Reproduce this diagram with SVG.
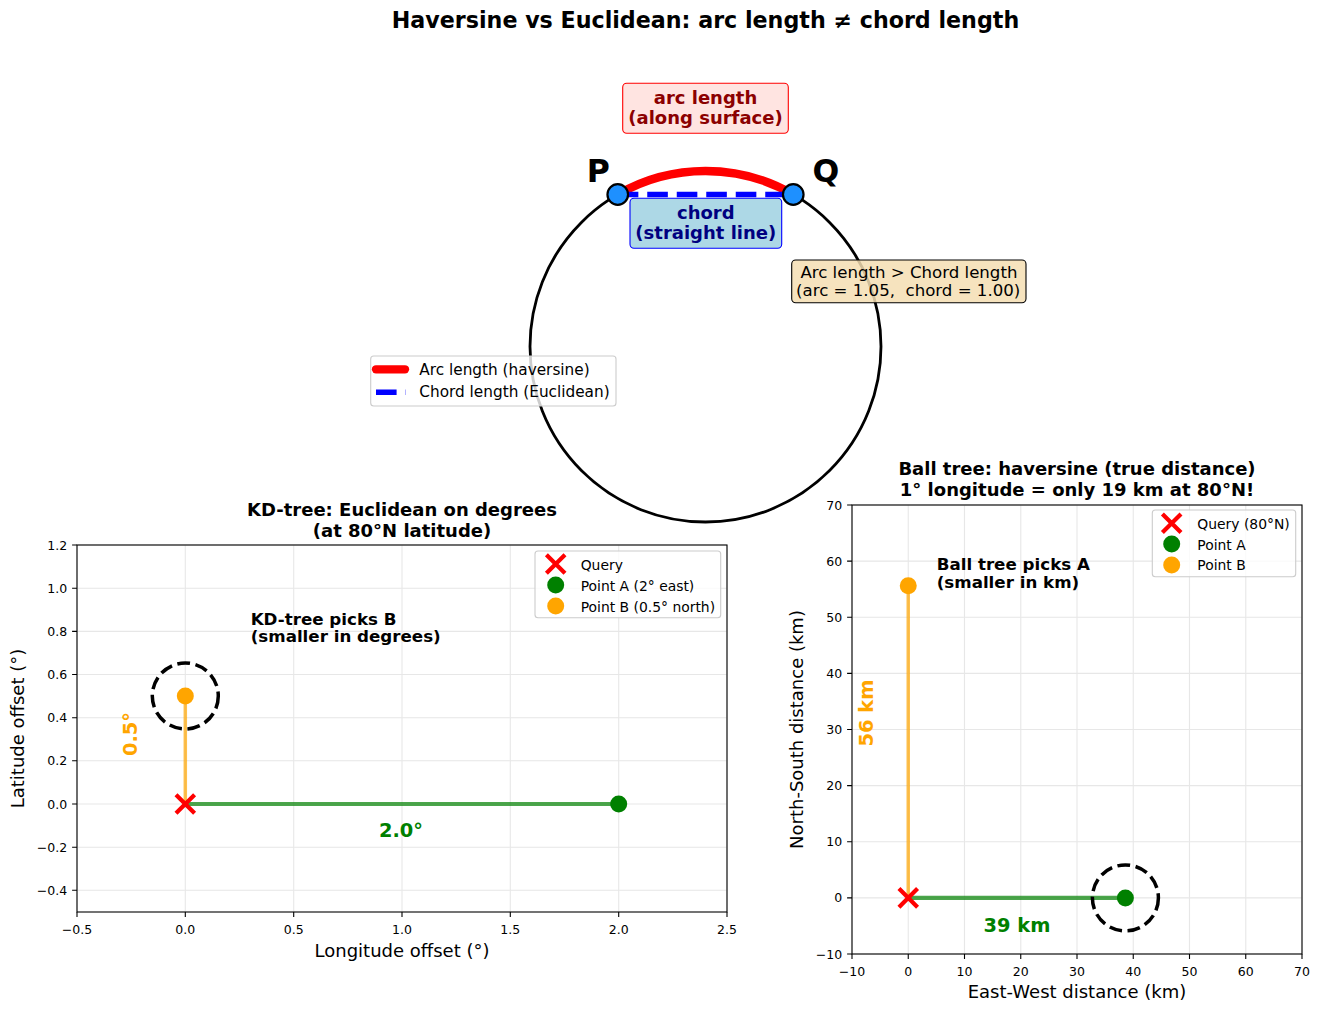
<svg xmlns="http://www.w3.org/2000/svg" width="1320" height="1011" viewBox="0 0 1320 1011">
<defs>
<style>
text{font-family:"DejaVu Sans","Liberation Sans",sans-serif;fill:#000}
.b{font-weight:bold}
.tick{font-size:12.5px}
.tl{font-size:12.5px;text-anchor:end}
.tc{font-size:12.5px;text-anchor:middle}
.ax{font-size:18px;text-anchor:middle}
.ttl{font-size:18px;font-weight:bold;text-anchor:middle}
.grid{stroke:#b0b0b0;stroke-opacity:0.3;stroke-width:1.1;fill:none}
.frame{fill:none;stroke:#000;stroke-width:1.1}
.tk{stroke:#000;stroke-width:1.1}
.leg{fill:#fff;fill-opacity:0.8;stroke:#cccccc;stroke-width:1.1}
.lt{font-size:13.9px}
.xm{stroke:#ff0000;stroke-width:4.2;fill:none}
.dotA{fill:#008000}
.dotB{fill:#ffa500}
.ring{fill:none;stroke:#000;stroke-width:3.5;stroke-dasharray:12.8 5.6}
.gl{stroke:#008000;stroke-opacity:0.7;stroke-width:4.2}
.ol{stroke:#ffa500;stroke-opacity:0.7;stroke-width:3.5}
</style>
<path id="xmark" d="M-9.3,-9.3L9.3,9.3M-9.3,9.3L9.3,-9.3"/>
</defs>
<rect width="1320" height="1011" fill="#fff"/>

<text id="title" class="b" x="705.5" y="28" font-size="22.2" text-anchor="middle">Haversine vs Euclidean: arc length ≠ chord length</text>

<!-- Top: circle diagram -->
<g id="circle-diagram">
<circle cx="705.5" cy="346.5" r="175.5" fill="none" stroke="#000" stroke-width="2.8"/>
<path d="M617.75,194.5 A175.5,175.5 0 0 1 793.25,194.5" fill="none" stroke="#ff0000" stroke-width="8.3"/>
<line x1="617.75" y1="194.5" x2="793.25" y2="194.5" stroke="#0000ff" stroke-width="5.5" stroke-dasharray="20.6 8.9"/>
</g>
<g id="node-P">
<circle cx="617.75" cy="194.5" r="10.3" fill="#1e90ff" stroke="#000" stroke-width="2.2"/>
<text class="b" x="598.3" y="181.7" font-size="31.5" text-anchor="middle">P</text>
</g>
<g id="node-Q">
<circle cx="793.25" cy="194.5" r="10.3" fill="#1e90ff" stroke="#000" stroke-width="2.2"/>
<text class="b" x="825.8" y="181.7" font-size="31.5" text-anchor="middle">Q</text>
</g>
<g id="label-arc">
<rect x="622.7" y="83.3" width="165.6" height="50" rx="4" fill="#ffe4e1" stroke="#ff0000" stroke-width="1.1"/>
<text class="b" x="705.5" y="104" font-size="18" text-anchor="middle" style="fill:#8b0000">arc length</text>
<text class="b" x="705.5" y="124.3" font-size="18" text-anchor="middle" style="fill:#8b0000">(along surface)</text>
</g>
<g id="label-chord">
<rect x="630" y="198.3" width="151.7" height="50" rx="4" fill="#add8e6" stroke="#0000ff" stroke-width="1.1"/>
<text class="b" x="705.8" y="219" font-size="18" text-anchor="middle" style="fill:#000080">chord</text>
<text class="b" x="705.8" y="239.3" font-size="18" text-anchor="middle" style="fill:#000080">(straight line)</text>
</g>
<g id="label-compare">
<rect x="791.7" y="260" width="234.3" height="42.7" rx="4" fill="#f5deb3" fill-opacity="0.85" stroke="#000" stroke-width="1.1"/>
<text x="908.9" y="278.3" font-size="16.6" text-anchor="middle">Arc length &gt; Chord length</text>
<text x="908.2" y="295.7" font-size="16.6" text-anchor="middle" style="white-space:pre">(arc = 1.05,  chord = 1.00)</text>
</g>
<g id="legend-top">
<rect class="leg" x="370.7" y="356" width="245.3" height="50" rx="3"/>
<line x1="376" y1="369.3" x2="405" y2="369.3" stroke="#ff0000" stroke-width="8.3" stroke-linecap="round"/>
<line x1="376" y1="392.3" x2="405.8" y2="392.3" stroke="#0000ff" stroke-width="5.5" stroke-dasharray="20.6 8.9"/>
<text x="419.3" y="375" font-size="15.3">Arc length (haversine)</text>
<text x="419.3" y="397.3" font-size="15.3">Chord length (Euclidean)</text>
</g>

<!-- Left panel: KD-tree -->
<g id="kd-panel">
<g id="kd-grid">
<path class="grid" d="M185.3,545V912M293.7,545V912M402,545V912M510.3,545V912M618.7,545V912M77,545V912M727,545V912M77,545H727M77,588.2H727M77,631.4H727M77,674.5H727M77,717.7H727M77,760.8H727M77,804H727M77,847.2H727M77,890.3H727"/>
</g>
<g id="kd-axes">
<rect class="frame" x="77" y="545" width="650" height="367"/>
<path class="tk" d="M77,912V916.9M185.3,912V916.9M293.7,912V916.9M402,912V916.9M510.3,912V916.9M618.7,912V916.9M727,912V916.9M77,545H72.1M77,588.2H72.1M77,631.4H72.1M77,674.5H72.1M77,717.7H72.1M77,760.8H72.1M77,804H72.1M77,847.2H72.1M77,890.3H72.1"/>
<text class="tc" x="77" y="933.5">−0.5</text>
<text class="tc" x="185.3" y="933.5">0.0</text>
<text class="tc" x="293.7" y="933.5">0.5</text>
<text class="tc" x="402" y="933.5">1.0</text>
<text class="tc" x="510.3" y="933.5">1.5</text>
<text class="tc" x="618.7" y="933.5">2.0</text>
<text class="tc" x="727" y="933.5">2.5</text>
<text class="tl" x="67.2" y="549.5">1.2</text>
<text class="tl" x="67.2" y="592.7">1.0</text>
<text class="tl" x="67.2" y="635.9">0.8</text>
<text class="tl" x="67.2" y="679">0.6</text>
<text class="tl" x="67.2" y="722.2">0.4</text>
<text class="tl" x="67.2" y="765.3">0.2</text>
<text class="tl" x="67.2" y="808.5">0.0</text>
<text class="tl" x="67.2" y="851.7">−0.2</text>
<text class="tl" x="67.2" y="894.8">−0.4</text>
<text class="ax" x="402" y="956.7">Longitude offset (°)</text>
<text class="ax" transform="translate(23.6,728.5) rotate(-90)">Latitude offset (°)</text>
<text class="ttl" x="402" y="516">KD-tree: Euclidean on degrees</text>
<text class="ttl" x="402" y="536.5">(at 80°N latitude)</text>
</g>
</g>
<g id="kd-connectors">
<line class="ol" x1="185.3" y1="804" x2="185.3" y2="696"/>
<line class="gl" x1="185.3" y1="804" x2="618.7" y2="804"/>
</g>
<g id="kd-pointB">
<circle class="dotB" cx="185.3" cy="696" r="8.5"/>
<circle class="ring" cx="185.3" cy="696" r="33"/>
</g>
<g id="kd-pointA"><circle class="dotA" cx="618.7" cy="804" r="8.5"/></g>
<g id="kd-query"><use href="#xmark" class="xm" x="185.3" y="804"/></g>
<g id="kd-labels">
<text class="b" x="401" y="837.3" font-size="19.4" text-anchor="middle" style="fill:#008000">2.0°</text>
<text class="b" transform="translate(136.8,734) rotate(-90)" font-size="19.4" text-anchor="middle" style="fill:#ffa500">0.5°</text>
<text class="b" x="250.7" y="625" font-size="16.7">KD-tree picks B</text>
<text class="b" x="250.7" y="642.3" font-size="16.7">(smaller in degrees)</text>
</g>
<g id="kd-legend">
<rect class="leg" x="535" y="551" width="185.7" height="66.7" rx="3"/>
<use href="#xmark" class="xm" x="555.7" y="564"/>
<circle class="dotA" cx="555.7" cy="585" r="8.5"/>
<circle class="dotB" cx="555.7" cy="606" r="8.5"/>
<text class="lt" x="580.7" y="570">Query</text>
<text class="lt" x="580.7" y="591">Point A (2° east)</text>
<text class="lt" x="580.7" y="611.7">Point B (0.5° north)</text>
</g>

<!-- Right panel: Ball tree -->
<g id="ball-panel">
<g id="ball-grid">
<path class="grid" d="M852,505V954M908.25,505V954M964.5,505V954M1020.75,505V954M1077,505V954M1133.25,505V954M1189.5,505V954M1245.75,505V954M1302,505V954M852,505H1302M852,561.1H1302M852,617.3H1302M852,673.4H1302M852,729.5H1302M852,785.6H1302M852,841.8H1302M852,897.9H1302M852,954H1302"/>
</g>
<g id="ball-axes">
<rect class="frame" x="852" y="505" width="450" height="449"/>
<path class="tk" d="M852,954V958.9M908.25,954V958.9M964.5,954V958.9M1020.75,954V958.9M1077,954V958.9M1133.25,954V958.9M1189.5,954V958.9M1245.75,954V958.9M1302,954V958.9M852,505H847.1M852,561.1H847.1M852,617.3H847.1M852,673.4H847.1M852,729.5H847.1M852,785.6H847.1M852,841.8H847.1M852,897.9H847.1M852,954H847.1"/>
<text class="tc" x="852" y="975.5">−10</text>
<text class="tc" x="908.25" y="975.5">0</text>
<text class="tc" x="964.5" y="975.5">10</text>
<text class="tc" x="1020.75" y="975.5">20</text>
<text class="tc" x="1077" y="975.5">30</text>
<text class="tc" x="1133.25" y="975.5">40</text>
<text class="tc" x="1189.5" y="975.5">50</text>
<text class="tc" x="1245.75" y="975.5">60</text>
<text class="tc" x="1302" y="975.5">70</text>
<text class="tl" x="842.2" y="509.5">70</text>
<text class="tl" x="842.2" y="565.6">60</text>
<text class="tl" x="842.2" y="621.8">50</text>
<text class="tl" x="842.2" y="677.9">40</text>
<text class="tl" x="842.2" y="734">30</text>
<text class="tl" x="842.2" y="790.1">20</text>
<text class="tl" x="842.2" y="846.3">10</text>
<text class="tl" x="842.2" y="902.4">0</text>
<text class="tl" x="842.2" y="958.5">−10</text>
<text class="ax" x="1077" y="997.7">East-West distance (km)</text>
<text class="ax" transform="translate(802.8,729.5) rotate(-90)">North-South distance (km)</text>
<text class="ttl" x="1077" y="475">Ball tree: haversine (true distance)</text>
<text class="ttl" x="1077" y="495.7">1° longitude = only 19 km at 80°N!</text>
</g>
</g>
<g id="ball-connectors">
<line class="ol" x1="908.25" y1="897.9" x2="908.25" y2="585.8"/>
<line class="gl" x1="908.25" y1="897.9" x2="1125.4" y2="897.9"/>
</g>
<g id="ball-pointB"><circle class="dotB" cx="908.25" cy="585.8" r="8.5"/></g>
<g id="ball-pointA">
<circle class="dotA" cx="1125.4" cy="897.9" r="8.5"/>
<circle class="ring" cx="1125.4" cy="897.9" r="33"/>
</g>
<g id="ball-query"><use href="#xmark" class="xm" x="908.25" y="897.9"/></g>
<g id="ball-labels">
<text class="b" x="1017" y="931.7" font-size="19.4" text-anchor="middle" style="fill:#008000">39 km</text>
<text class="b" transform="translate(873,713) rotate(-90)" font-size="19.4" text-anchor="middle" style="fill:#ffa500">56 km</text>
<text class="b" x="936.7" y="570" font-size="16.7">Ball tree picks A</text>
<text class="b" x="936.7" y="588.3" font-size="16.7">(smaller in km)</text>
</g>
<g id="ball-legend">
<rect class="leg" x="1152.3" y="510" width="143.4" height="66.7" rx="3"/>
<use href="#xmark" class="xm" x="1171.7" y="523.3"/>
<circle class="dotA" cx="1171.7" cy="544" r="8.5"/>
<circle class="dotB" cx="1171.7" cy="565" r="8.5"/>
<text class="lt" x="1197.3" y="529.3">Query (80°N)</text>
<text class="lt" x="1197.3" y="550">Point A</text>
<text class="lt" x="1197.3" y="570.3">Point B</text>
</g>
</svg>
